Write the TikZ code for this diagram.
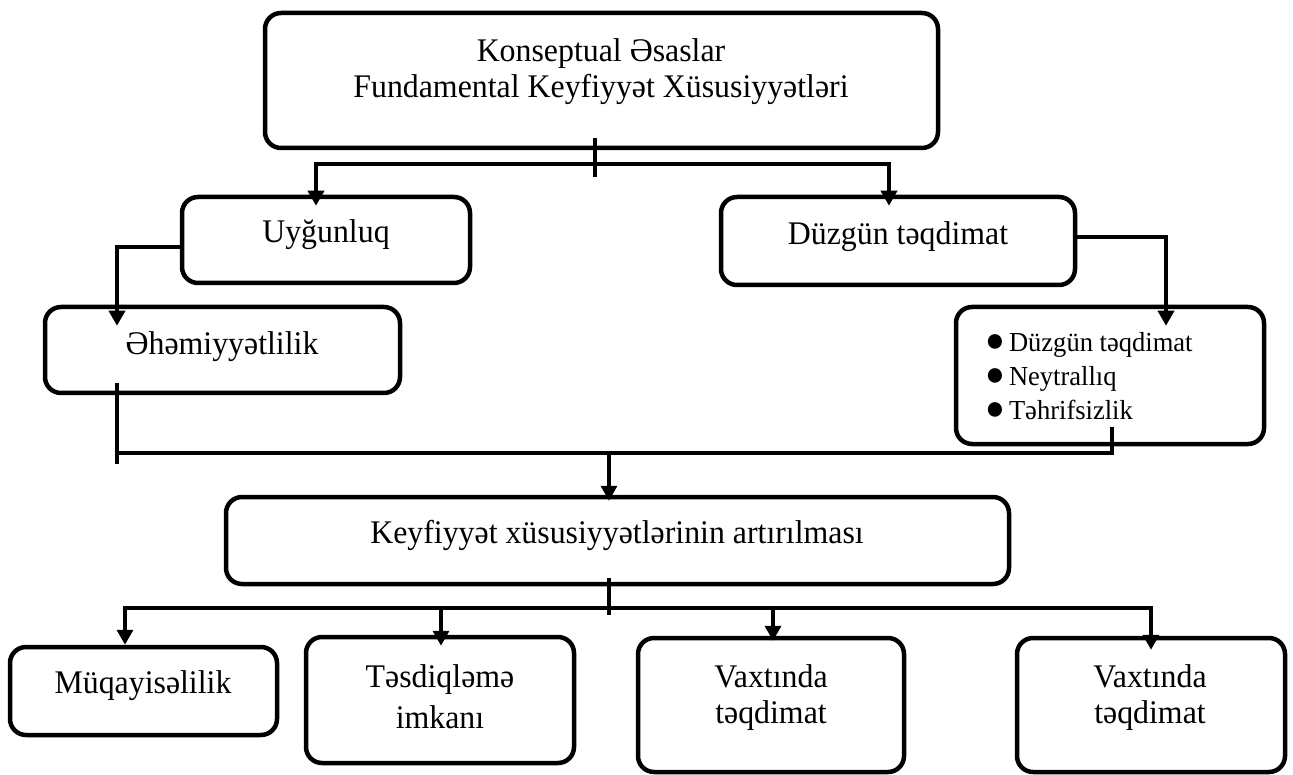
\documentclass[tikz,border=0pt]{standalone}
\usepackage{fontspec}
\setmainfont{Liberation Serif}[FakeStretch=0.965]
\usetikzlibrary{arrows.meta,calc}
\newcommand\bulmark{{\fontsize{34}{34}\selectfont ●}\hspace{4pt}}
\begin{document}
\begin{tikzpicture}[x=1pt,y=-1pt,
  box/.style={draw, line width=4.5pt, rounded corners=16pt, inner sep=0pt},
  conn/.style={line width=3.5pt, line cap=rect},
  arr/.style={conn, -{Triangle[width=16pt,length=15pt]}},
  lbl/.style={anchor=base, inner sep=0pt, font=\fontsize{33}{38}\selectfont},
  blt/.style={anchor=base west, inner sep=0pt, font=\fontsize{27.5}{30}\selectfont}]
\useasboundingbox (0,0) rectangle (1293,775);

% boxes
\node[box, minimum width=673pt, minimum height=135pt] (top) at (601.5,80.5) {};
\node[box, minimum width=288pt, minimum height=86pt] (uyg) at (326,240) {};
\node[box, minimum width=354pt, minimum height=88pt] (duz) at (898,241) {};
\node[box, minimum width=355pt, minimum height=86pt] (ehem) at (222.5,350) {};
\node[box, minimum width=308pt, minimum height=137pt] (bul) at (1110,375.5) {};
\node[box, minimum width=783pt, minimum height=87pt] (keyf) at (617.5,540.5) {};
\node[box, minimum width=267pt, minimum height=88pt] (muq) at (143.5,691) {};
\node[box, minimum width=268pt, minimum height=126pt] (tes) at (440,700) {};
\node[box, minimum width=266pt, minimum height=134pt] (vax1) at (771,705) {};
\node[box, minimum width=268pt, minimum height=134pt] (vax2) at (1151,705) {};

% labels
\node[lbl] (topL1) at (601,62) {Konseptual Əsaslar};
\node[lbl] (topL2) at (601,98) {Fundamental Keyfiyyət Xüsusiyyətləri};
\node[lbl] (uygL) at (326,243) {Uyğunluq};
\node[lbl] (duzL) at (898,245) {Düzgün təqdimat};
\node[lbl] (ehemL) at (222,355) {Əhəmiyyətlilik};
\node[blt] (bulL1) at (985,352) {\bulmark Düzgün təqdimat};
\node[blt] (bulL2) at (985,386) {\bulmark Neytrallıq};
\node[blt] (bulL3) at (985,420) {\bulmark Təhrifsizlik};
\node[lbl] (keyfL) at (617,543) {Keyfiyyət xüsusiyyətlərinin artırılması};
\node[lbl] (muqL) at (143,693) {Müqayisəlilik};
\node[lbl] (tesL1) at (440,687) {Təsdiqləmə};
\node[lbl] (tesL2) at (440,728) {imkanı};
\node[lbl] (vax1L1) at (771,687) {Vaxtında};
\node[lbl] (vax1L2) at (771,723) {təqdimat};
\node[lbl] (vax2L1) at (1150,687) {Vaxtında};
\node[lbl] (vax2L2) at (1150,723) {təqdimat};

% connectors: top split
\coordinate (t1) at (595,164);
\coordinate (a1) at (316,164);
\coordinate (a2) at (889,164);
\draw[conn] ([yshift=10pt]top.south -| t1) -- ([yshift=-11pt]t1);
\draw[conn] (a1) -- (a2);
\draw[arr] (a1) -- ([yshift=-11pt]uyg.north -| a1);
\draw[arr] (a2) -- ([yshift=-11pt]duz.north -| a2);

% side branches
\coordinate (b1) at (117,247);
\draw[arr] (uyg.west |- b1) -- (b1) -- ([yshift=-21pt]ehem.north -| b1);
\coordinate (c1) at (1166,237);
\draw[arr] (duz.east |- c1) -- (c1) -- ([yshift=-21pt]bul.north -| c1);

% merge
\coordinate (d1) at (117,453);
\coordinate (d2) at (1112,453);
\coordinate (d3) at (609,453);
\draw[conn] ([yshift=10pt]ehem.south -| d1) -- ([yshift=-9pt]d1);
\draw[conn] (d1) -- (d2) -- ([yshift=18pt]bul.south -| d2);
\draw[arr] (d3) -- ([yshift=-6pt]keyf.north -| d3);

% bottom split
\coordinate (e0) at (609,608);
\coordinate (e1) at (125,608);
\coordinate (e2) at (441,608);
\coordinate (e3) at (773,608);
\coordinate (e4) at (1151,608);
\draw[conn] ([yshift=7pt]keyf.south -| e0) -- ([yshift=-5pt]e0);
\draw[conn] (e1) -- (e4);
\draw[arr] (e1) -- (muq.north -| e1);
\draw[arr] (e2) -- ([yshift=-11pt]tes.north -| e2);
\draw[arr] (e3) -- ([yshift=-5pt]vax1.north -| e3);
\draw[arr] (e4) -- ([yshift=-14pt]vax2.north -| e4);
\end{tikzpicture}
\end{document}
